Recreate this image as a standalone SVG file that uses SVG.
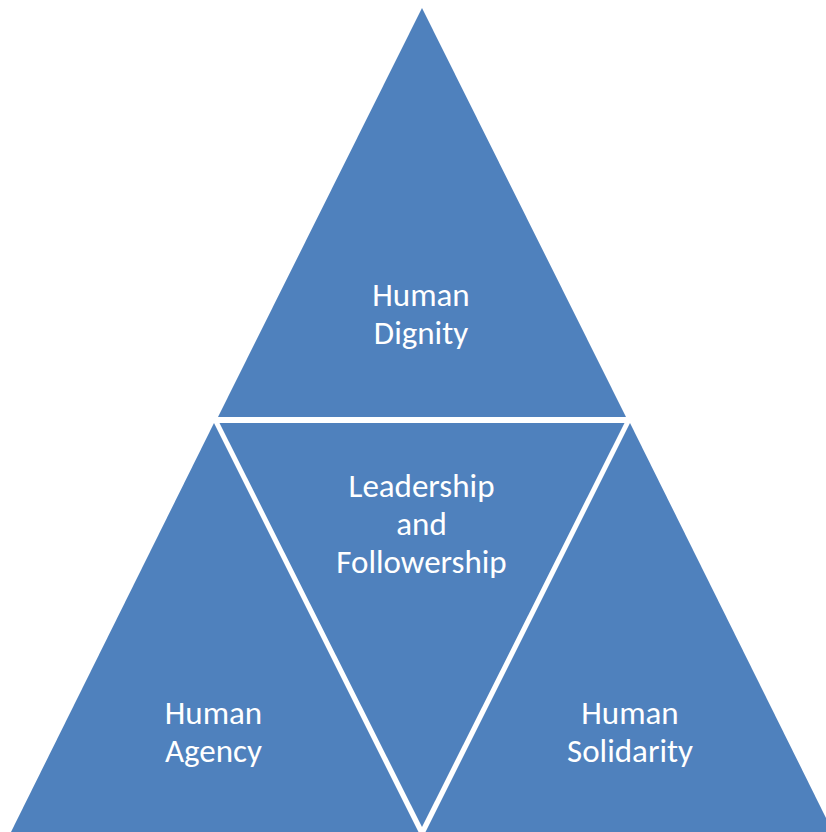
<svg xmlns="http://www.w3.org/2000/svg" width="826" height="832" viewBox="0 0 826 832">
<style>
.seg{fill:#4F81BD;stroke:none}
.lbl{fill:#FFFFFF;font-family:Carlito,Lato,"Liberation Sans",sans-serif;font-size:33px;text-anchor:middle}
</style>
<rect width="826" height="832" fill="#FFFFFF"/>
<g id="top">
<polygon class="seg" points="422,8 218,417 626,417"/>
<text class="lbl" x="421" y="306">Human</text>
<text class="lbl" x="421" y="344">Dignity</text>
</g>
<g id="center">
<polygon class="seg" points="219.5,423 624.5,423 422,827"/>
<text class="lbl" x="421.5" y="497">Leadership</text>
<text class="lbl" x="421.5" y="535">and</text>
<text class="lbl" x="421.5" y="573">Followership</text>
</g>
<g id="left">
<polygon class="seg" points="214,423 11,832 418.5,832"/>
<text class="lbl" x="213.5" y="724">Human</text>
<text class="lbl" x="213.5" y="762">Agency</text>
</g>
<g id="right">
<polygon class="seg" points="630,423 833,832 425.5,832"/>
<text class="lbl" x="630" y="724">Human</text>
<text class="lbl" x="630" y="762">Solidarity</text>
</g>
<g id="connectors"></g>
</svg>
